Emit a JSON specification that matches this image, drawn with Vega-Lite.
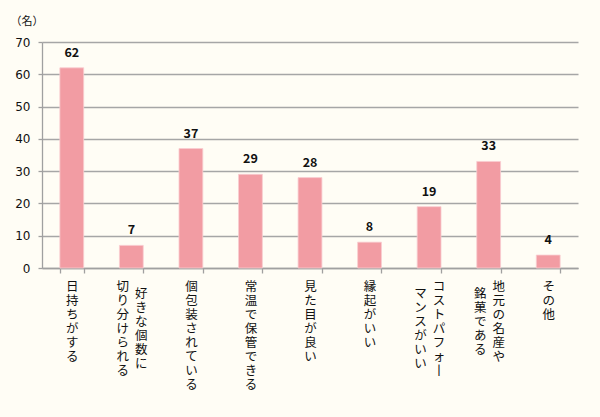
{
  "$schema": "https://vega.github.io/schema/vega-lite/v6.json",
  "width": 536,
  "height": 226,
  "autosize": "none",
  "padding": {"left": 42, "top": 42, "right": 22, "bottom": 149},
  "background": "#FFFDF5",
  "config": {"view": {"stroke": null}},
  "data": {
    "values": [
      {"項目": "日持ちがする", "人数": 62},
      {"項目": "好きな個数に\n切り分けられる", "人数": 7},
      {"項目": "個包装されている", "人数": 37},
      {"項目": "常温で保管できる", "人数": 29},
      {"項目": "見た目が良い", "人数": 28},
      {"項目": "縁起がいい", "人数": 8},
      {"項目": "コストパフォー\nマンスがいい", "人数": 19},
      {"項目": "地元の名産や\n銘菓である", "人数": 33},
      {"項目": "その他", "人数": 4}
    ]
  },
  "resolve": {"scale": {"x": "independent"}},
  "layer": [
    {
      "mark": {"type": "bar", "color": "#F29CA3", "stroke": "#F9CDD1", "strokeWidth": 0.8},
      "encoding": {
        "x": {
          "field": "項目", "type": "nominal", "sort": null,
          "scale": {"paddingInner": 0.6, "paddingOuter": 0.3},
          "axis": {
            "title": null,
            "orient": "bottom",
            "domain": true, "domainColor": "#A0A0A0", "domainWidth": 1.3,
            "ticks": true, "tickBand": "extent", "tickSize": 5, "tickColor": "#A0A0A0", "tickWidth": 1.3,
            "grid": false,
            "labelExpr": "isString(datum.value) ? split(replace(split(datum.value, '\\n')[0], 'ー', '丨'), '') : ''",
            "labelAngle": 0, "labelAlign": "center", "labelBaseline": "top",
            "labelFont": "Noto Sans CJK JP", "labelFontSize": 12.5, "labelLineHeight": 14,
            "labelColor": "#111111", "labelLimit": 0, "labelOverlap": false,
            "labelOffset": {"condition": {"test": "isString(datum.value) && indexof(datum.value, '\\n') >= 0", "value": 9.5}, "value": 0},
            "labelPadding": {"condition": {"test": "isString(datum.value) && indexof(datum.value, '\\n') >= 0 && length(split(datum.value, '\\n')[0]) < length(split(datum.value, '\\n')[1])", "value": 14}, "value": 7}
          }
        },
        "y": {
          "field": "人数", "type": "quantitative",
          "scale": {"domain": [0, 70]},
          "axis": {
            "title": "（名）", "titleAngle": 0, "titleAlign": "left", "titleBaseline": "middle",
            "titleX": -32, "titleY": -21,
            "titleFont": "Noto Sans CJK JP", "titleFontSize": 11, "titleFontWeight": "normal", "titleColor": "#111111",
            "values": [0, 10, 20, 30, 40, 50, 60, 70],
            "grid": true, "gridColor": "#A6A6A6", "gridWidth": 1.5,
            "domain": true, "domainColor": "#A0A0A0", "domainWidth": 1.3,
            "tickSize": 4, "tickColor": "#A0A0A0", "tickWidth": 1.3,
            "labelFont": "DejaVu Sans", "labelFontSize": 12, "labelColor": "#111111", "labelPadding": 8
          }
        }
      }
    },
    {
      "mark": {"type": "text", "dy": -15, "font": "Noto Sans CJK JP", "fontWeight": "bold", "fontSize": 12.5, "color": "#111111"},
      "encoding": {
        "x": {
          "field": "項目", "type": "nominal", "sort": null,
          "scale": {"paddingInner": 0.6, "paddingOuter": 0.3},
          "axis": {
            "title": null,
            "orient": "bottom",
            "domain": false,
            "ticks": false,
            "grid": false,
            "labelExpr": "isString(datum.value) && indexof(datum.value, '\\n') >= 0 ? split(split(datum.value, '\\n')[1], '') : ''",
            "labelAngle": 0, "labelAlign": "center", "labelBaseline": "top",
            "labelFont": "Noto Sans CJK JP", "labelFontSize": 12.5, "labelLineHeight": 14,
            "labelColor": "#111111", "labelLimit": 0, "labelOverlap": false,
            "labelOffset": -9,
            "labelPadding": {"condition": {"test": "isString(datum.value) && indexof(datum.value, '\\n') >= 0 && length(split(datum.value, '\\n')[1]) < length(split(datum.value, '\\n')[0])", "value": 19}, "value": 12}
          }
        },
        "y": {
          "field": "人数", "type": "quantitative",
          "scale": {"domain": [0, 70]},
          "axis": {
            "title": "（名）", "titleAngle": 0, "titleAlign": "left", "titleBaseline": "middle",
            "titleX": -32, "titleY": -21,
            "titleFont": "Noto Sans CJK JP", "titleFontSize": 11, "titleFontWeight": "normal", "titleColor": "#111111",
            "values": [0, 10, 20, 30, 40, 50, 60, 70],
            "grid": true, "gridColor": "#A6A6A6", "gridWidth": 1.5,
            "domain": true, "domainColor": "#A0A0A0", "domainWidth": 1.3,
            "tickSize": 4, "tickColor": "#A0A0A0", "tickWidth": 1.3,
            "labelFont": "DejaVu Sans", "labelFontSize": 12, "labelColor": "#111111", "labelPadding": 8
          }
        },
        "text": {"field": "人数", "type": "quantitative"}
      }
    }
  ]
}
